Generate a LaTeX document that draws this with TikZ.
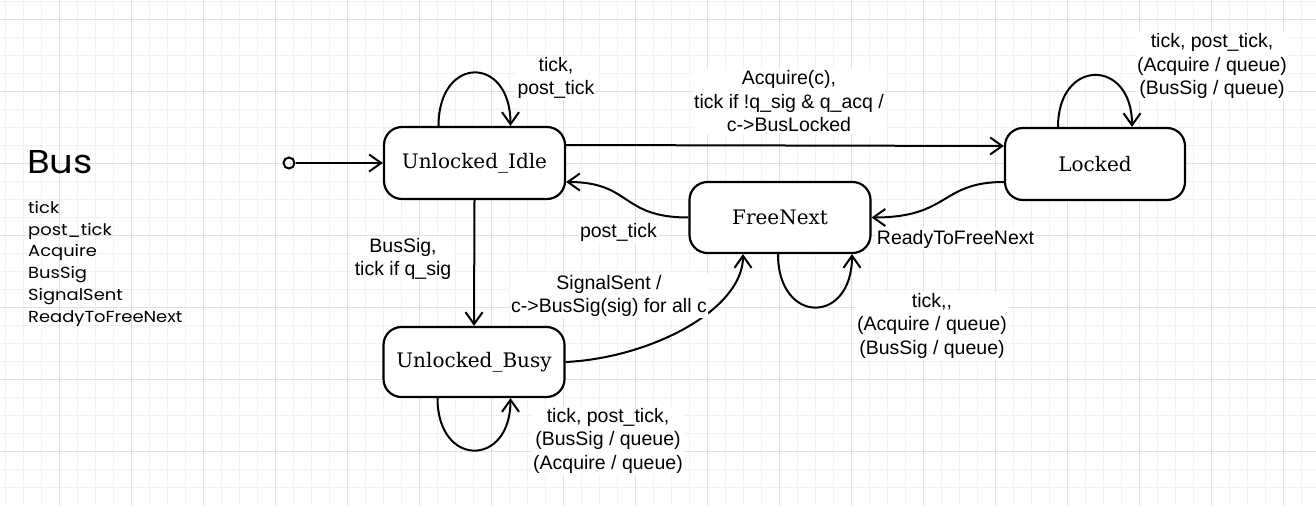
\documentclass[tikz,border=0pt]{standalone}
\usepackage{fontspec}
\usetikzlibrary{arrows.meta}
\newfontfamily\lblfont{Liberation Sans}
\newfontfamily\statefont{DejaVu Serif}
\newfontfamily\handfont[FakeStretch=1.12]{Poppins}
\begin{document}
\begin{tikzpicture}[x=1pt,y=-1pt,
  minorgrid/.style={draw=black!5, line width=0.8pt},
  majorgrid/.style={draw=black!12, line width=0.8pt},
  stbox/.style={draw, line width=2.2pt, rounded corners=18pt, fill=white,
    minimum width=181pt, minimum height=72pt, inner sep=0pt,
    font=\statefont\fontsize{20}{24}\selectfont},
  lbl/.style={fill=white, align=center, inner sep=1.5pt,
    font=\lblfont\fontsize{19.5}{23.5}\selectfont},
  hand/.style={anchor=base west, inner sep=0pt,
    font=\handfont\fontsize{16}{18}\selectfont},
  arr/.style={line width=2pt,
    -{Straight Barb[length=12pt,width=17pt,line width=2pt]}}]
\useasboundingbox (0,0) rectangle (1316,505);
\fill[white] (0,0) rectangle (1316,505);
% grid
\foreach \i in {0,...,73} {\draw[minorgrid] ({5.3+18*\i},0) -- ({5.3+18*\i},505);}
\foreach \j in {0,...,28} {\draw[minorgrid] (0,{1.3+18*\j}) -- (1316,{1.3+18*\j});}
\foreach \i in {0,...,17} {\draw[majorgrid] ({59.3+72*\i},0) -- ({59.3+72*\i},505);}
\foreach \j in {0,...,6} {\draw[majorgrid] (0,{19.3+72*\j}) -- (1316,{19.3+72*\j});}

% legend
\node[anchor=base west, inner sep=0pt, font=\handfont\fontsize{33}{36}\selectfont] (title) at (27,173.3) {Bus};
\node[hand] (ev1) at (28,213.3) {tick};
\node[hand] (ev2) at (28,235.1) {post\_tick};
\node[hand] (ev3) at (28,256.9) {Acquire};
\node[hand] (ev4) at (28,278.7) {BusSig};
\node[hand] (ev5) at (28,300.5) {SignalSent};
\node[hand] (ev6) at (28,322.3) {ReadyToFreeNext};

% states
\node[stbox] (idle) at (474.5,163) {Unlocked\_Idle};
\node[stbox, minimum width=180pt] (locked) at (1095,164) {Locked};
\node[stbox, minimum height=71pt] (free) at (780,217.5) {FreeNext};
\node[stbox, minimum height=70pt] (busy) at (474,362) {Unlocked\_Busy};

\node[circle, draw, line width=2pt, minimum size=11pt, inner sep=0pt] (init) at (289,163) {};

% transitions
\draw[arr] (init) -- (idle);
\draw[arr] ([yshift=18pt]idle.east) -- ([yshift=18pt]locked.west);
\draw[arr] ([yshift=-18pt]locked.west) .. controls (940,182) and (950,217.5) .. (free.east);
\draw[arr] (free.west) .. controls (620,217.5) and (632,182) .. ([yshift=-19pt]idle.east);
\draw[arr] (idle.south) -- (busy.north);
\draw[arr] (busy.east) .. controls (650,358) and (743,310) .. ([xshift=-37pt]free.south);

% self loops
\draw[arr] ([xshift=-36pt]idle.north) .. controls (438.5,55) and (510.5,55) .. ([xshift=36pt]idle.north);
\draw[arr] ([xshift=-37pt]locked.north) .. controls (1058,58) and (1132,58) .. ([xshift=37pt]locked.north);
\draw[arr] ([xshift=-2pt]free.south) .. controls (778,325) and (852,325) .. ([xshift=72pt]free.south);
\draw[arr] ([xshift=-36.5pt]busy.south) .. controls (437.5,467.7) and (510.5,467.7) .. ([xshift=36.5pt]busy.south);

% labels
\node[lbl] (l1) at (556,78) {tick,\\post\_tick};
\node[lbl] (l2) at (789,101.5) {Acquire(c),\\tick if !q\_sig \& q\_acq /\\c->BusLocked};
\node[lbl] (l3) at (1212,66) {tick, post\_tick,\\(Acquire / queue)\\(BusSig / queue)};
\node[lbl] (l4) at (618.5,232) {post\_tick};
\node[lbl] (l5) at (955.5,239) {ReadyToFreeNext};
\node[lbl] (l6) at (403,259) {BusSig,\\tick if q\_sig};
\node[lbl] (l7) at (609,296) {SignalSent /\\c->BusSig(sig) for all c};
\node[lbl] (l8) at (932,325.7) {tick,,\\(Acquire / queue)\\(BusSig / queue)};
\node[lbl] (l9) at (608,440.8) {tick, post\_tick,\\(BusSig / queue)\\(Acquire / queue)};
\end{tikzpicture}
\end{document}
